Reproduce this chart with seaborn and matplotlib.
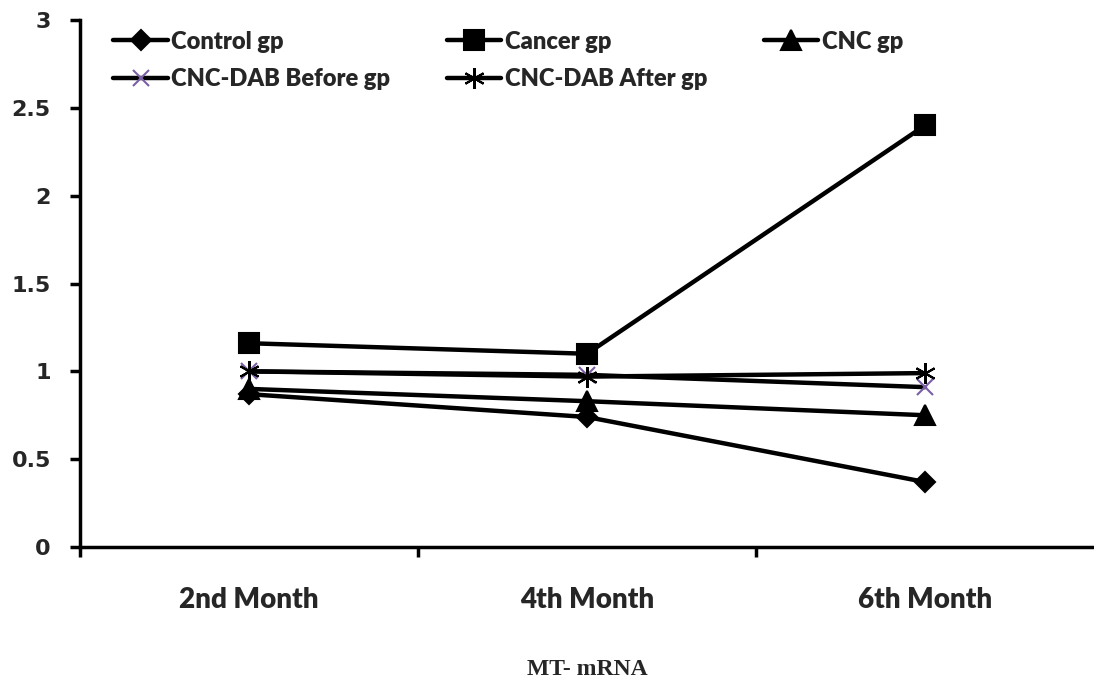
import pandas as pd
import matplotlib.pyplot as plt
import seaborn as sns
from matplotlib.ticker import FixedLocator

months = ["2nd Month", "4th Month", "6th Month"]
control_gp = [0.87, 0.74, 0.37]
cancer_gp = [1.16, 1.10, 2.40]
cnc_gp = [0.90, 0.83, 0.75]
cnc_dab_before = [1.00, 0.98, 0.91]
cnc_dab_after = [1.00, 0.97, 0.99]

series = [
    ("Control gp", control_gp, "D", 10, "black"),
    ("Cancer gp", cancer_gp, "s", 14, "black"),
    ("CNC gp", cnc_gp, "^", 14, "black"),
    ("CNC-DAB Before gp", cnc_dab_before, "x", 12, "#7b5fa6"),
    ("CNC-DAB After gp", cnc_dab_after, (6, 2, 0), 15, "black"),
]

sns.set_theme(style="white")
plt.rcParams["font.family"] = ["DejaVu Sans"]

fig = plt.figure(figsize=(10.94, 6.79), dpi=100)
ax = fig.add_axes([80 / 1094, 1 - 547 / 679, 1 - 80 / 1094, (547 - 20) / 679])

for name, vals, mk, ms, mcol in series:
    df = pd.DataFrame({"Month": months, "Value": vals})
    sns.lineplot(data=df, x="Month", y="Value", ax=ax, color="black", linewidth=3.2,
                 marker=mk, markersize=ms, markeredgecolor=mcol, markerfacecolor=mcol,
                 markeredgewidth=1.5, label=name, sort=False)

ax.set_xlim(-0.5, 2.5)
ax.set_ylim(0, 3)
ax.set_yticks([0, 0.5, 1, 1.5, 2, 2.5, 3])
ax.set_yticklabels(["0", "0.5", "1", "1.5", "2", "2.5", "3"])
ax.set_xticks([0, 1, 2])
ax.set_xticklabels(months)
ax.xaxis.set_minor_locator(FixedLocator([-0.5, 0.5, 1.5]))
ax.tick_params(axis="x", which="major", length=0, pad=29)
ax.tick_params(axis="x", which="minor", direction="out", length=7, width=2.5, color="black", bottom=True)
ax.tick_params(axis="y", direction="out", length=7, width=2.5, color="black", left=True, labelsize=16, pad=14)
for lab in ax.get_xticklabels():
    lab.set_fontweight("heavy")
    lab.set_family("Lato")
    lab.set_fontsize(20)
for lab in ax.get_yticklabels():
    lab.set_fontweight("bold")

sns.despine(ax=ax, top=True, right=True)
for sp in ["left", "bottom"]:
    ax.spines[sp].set_linewidth(2.5)
    ax.spines[sp].set_color("black")

ax.set_ylabel("")
ax.set_xlabel("MT- mRNA", fontsize=17, fontweight="bold", family="Liberation Serif", labelpad=33)

# legend filled row by row like the original
handles, labels = ax.get_legend_handles_labels()
order = [0, 3, 1, 4, 2]
leg = ax.legend([handles[i] for i in order], [labels[i] for i in order],
                ncol=3, loc="upper left", bbox_to_anchor=(0.012, 1.02), frameon=False,
                prop={"family": "Lato", "weight": "heavy", "size": 17},
                handlelength=2.3, handletextpad=0.15, columnspacing=2.4, labelspacing=0.65)

fig.savefig("out.png", dpi=100)
